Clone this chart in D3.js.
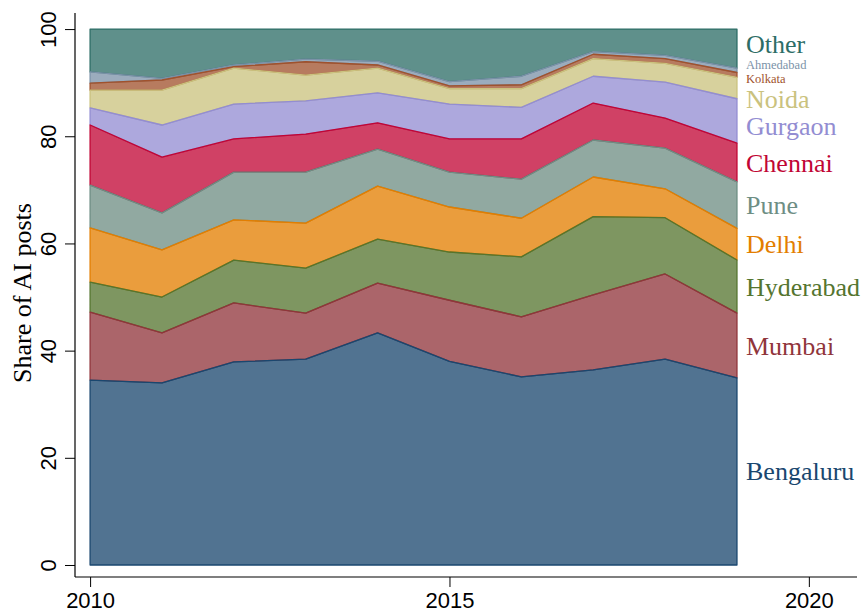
<!DOCTYPE html>
<html>
<head>
<meta charset="utf-8">
<script src="https://cdn.jsdelivr.net/npm/d3@7"></script>
<style>
  body { margin: 0; background: #fff; }
  svg { display: block; }
</style>
</head>
<body>
<div id="chart"></div>
<script>
// Years and cities (bottom of the stack first)
const years = [2010, 2011, 2012, 2013, 2014, 2015, 2016, 2017, 2018, 2019];
const cities = ["Bengaluru", "Mumbai", "Hyderabad", "Delhi", "Pune", "Chennai",
                "Gurgaon", "Noida", "Kolkata", "Ahmedabad", "Other"];

// Share of AI posts (%) per city
const bengaluru = [34.5, 34.0, 37.9, 38.4, 43.3, 38.0, 35.1, 36.4, 38.4, 34.9];
const mumbai    = [12.7,  9.3, 11.0,  8.6,  9.3, 11.4, 11.2, 14.0, 15.9, 12.1];
const hyderabad = [ 5.6,  6.7,  8.0,  8.4,  8.2,  9.0, 11.2, 14.6, 10.5,  9.9];
const delhi     = [10.1,  8.8,  7.5,  8.4,  9.9,  8.4,  7.2,  7.4,  5.4,  5.9];
const pune      = [ 8.0,  6.9,  8.9,  9.5,  6.9,  6.5,  7.3,  6.9,  7.6,  8.7];
const chennai   = [11.2, 10.4,  6.2,  7.1,  4.9,  6.2,  7.5,  6.9,  5.6,  7.2];
const gurgaon   = [ 3.2,  6.0,  6.5,  6.2,  5.6,  6.5,  5.9,  5.0,  6.7,  8.3];
const noida     = [ 3.3,  6.5,  6.7,  4.8,  4.6,  2.9,  3.5,  3.3,  3.5,  4.0];
const kolkata   = [ 1.3,  1.9,  0.3,  2.5,  0.6,  0.5,  0.7,  0.8,  0.9,  0.9];
const ahmedabad = [ 2.1,  0.3,  0.3,  0.5,  0.7,  0.8,  1.6,  0.5,  0.6,  0.8];
const other     = [ 8.0,  9.2,  6.7,  5.6,  6.0,  9.8,  8.8,  4.2,  4.9,  7.3];

const yTicks = [0, 20, 40, 60, 80, 100];
const xTicks = [2010, 2015, 2020];

const series = [bengaluru, mumbai, hyderabad, delhi, pune, chennai,
                gurgaon, noida, kolkata, ahmedabad, other];

// Stata-like line colours; fills are the same at reduced opacity
const colors = ["#1a476f", "#90353b", "#55752f", "#e37e00", "#6e8e84", "#c10534",
                "#938dd2", "#cac27e", "#a0522d", "#7b92a8", "#2d6d66"];

// Build table for d3.stack
const table = years.map((yr, i) => {
  const row = { year: yr };
  cities.forEach((c, j) => { row[c] = series[j][i]; });
  return row;
});

const width = 867, height = 616;

const svg = d3.select("#chart")
  .append("svg")
  .attr("width", width)
  .attr("height", height);

// Scales
const x = d3.scaleLinear()
  .domain([2009.79, 2020.67])
  .range([75, 857]);

const y = d3.scaleLinear()
  .domain([-2.24, 103])
  .range([577, 13]);

const color = d3.scaleOrdinal().domain(cities).range(colors);

// Stack
const stacked = d3.stack().keys(cities)(table);

const area = d3.area()
  .x(d => x(d.data.year))
  .y0(d => y(d[0]))
  .y1(d => y(d[1]));

// Draw top band first so each lower band's outline sits on top
svg.append("g")
  .selectAll("path")
  .data(stacked.slice().reverse())
  .join("path")
  .attr("d", area)
  .attr("fill", d => color(d.key))
  .attr("fill-opacity", 0.76)
  .attr("stroke", d => color(d.key))
  .attr("stroke-width", 1.3)
  .attr("stroke-linejoin", "round");

// Y axis
const yAxis = svg.append("g")
  .attr("transform", `translate(${x.range()[0]},0)`)
  .call(d3.axisLeft(y).tickValues(yTicks).tickSize(10).tickPadding(0));

yAxis.select(".domain").remove();
yAxis.selectAll(".tick line").attr("stroke", "#000").attr("stroke-width", 1);
yAxis.selectAll(".tick text")
  .attr("x", null)
  .attr("dy", null)
  .attr("transform", "translate(-19,0) rotate(-90)")
  .attr("text-anchor", "middle")
  .style("font-family", "'Liberation Sans', Arial, Helvetica, sans-serif")
  .style("font-size", "22px")
  .attr("fill", "#000");

svg.append("line")
  .attr("x1", x.range()[0]).attr("x2", x.range()[0])
  .attr("y1", y.range()[0]).attr("y2", y.range()[1])
  .attr("stroke", "#000").attr("stroke-width", 1.2);

// X axis
const xAxis = svg.append("g")
  .attr("transform", `translate(0,${y.range()[0]})`)
  .call(d3.axisBottom(x).tickValues(xTicks).tickFormat(d3.format("d")).tickSize(10).tickPadding(5));

xAxis.select(".domain").remove();
xAxis.selectAll(".tick line").attr("stroke", "#000").attr("stroke-width", 1);
xAxis.selectAll(".tick text")
  .style("font-family", "'Liberation Sans', Arial, Helvetica, sans-serif")
  .style("font-size", "22px")
  .attr("fill", "#000");

svg.append("line")
  .attr("x1", x.range()[0]).attr("x2", x.range()[1])
  .attr("y1", y.range()[0]).attr("y2", y.range()[0])
  .attr("stroke", "#000").attr("stroke-width", 1.2);

// Y axis title
svg.append("text")
  .attr("transform", `translate(31,${(y(0) + y(100)) / 2 - 4}) rotate(-90)`)
  .attr("text-anchor", "middle")
  .style("font-family", "'Liberation Serif', 'Times New Roman', serif")
  .style("font-size", "26px")
  .attr("fill", "#000")
  .text("Share of AI posts");

// Direct labels at the right, centred on each band in the last year
const small = ["Kolkata", "Ahmedabad"];
const labelShift = { Gurgaon: 5, Noida: 11, Kolkata: 4, Ahmedabad: -6, Other: -5 };

svg.append("g")
  .selectAll("text")
  .data(stacked)
  .join("text")
  .attr("x", 746)
  .attr("y", d => {
    const last = d[d.length - 1];
    const mid = y((last[0] + last[1]) / 2);
    const isSmall = small.includes(d.key);
    return mid + (isSmall ? 4.5 : 9) + (labelShift[d.key] || 0);
  })
  .style("font-family", "'Liberation Serif', 'Times New Roman', serif")
  .style("font-size", d => small.includes(d.key) ? "12.5px" : "26px")
  .attr("fill", d => color(d.key))
  .text(d => d.key);
</script>
</body>
</html>
